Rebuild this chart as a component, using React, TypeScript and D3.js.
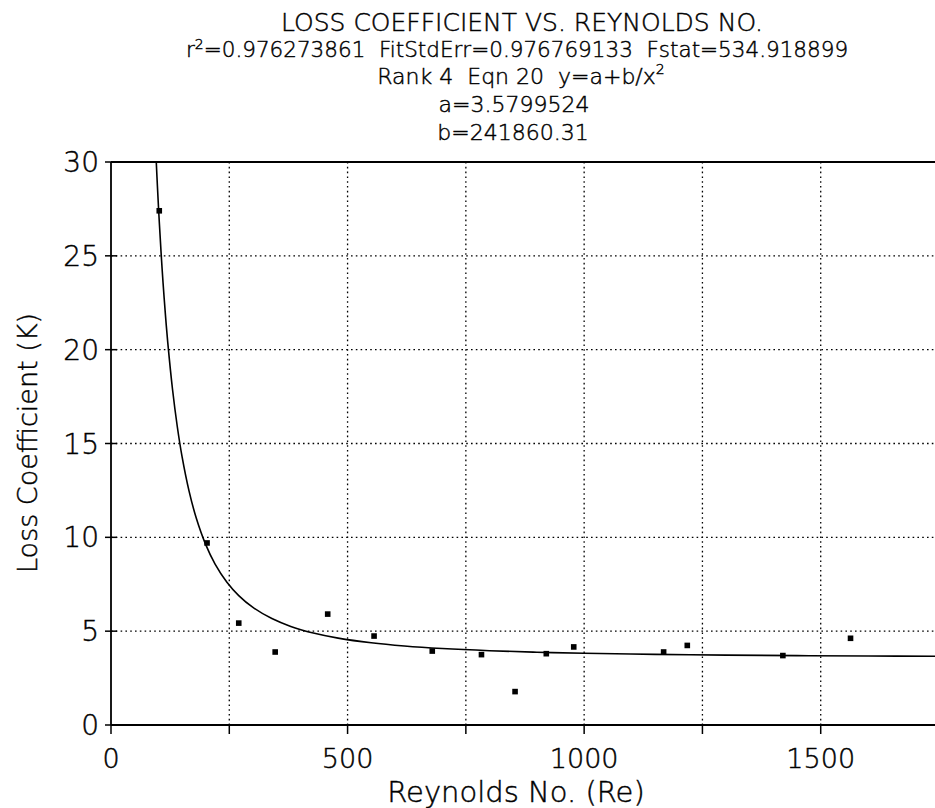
import React from "react";
import * as d3 from "d3";

// ---- data ----
const reynolds = [102, 203, 270, 347, 458, 556, 679, 783, 854, 920, 978, 1168, 1218, 1420, 1563];
const lossK = [27.4, 9.7, 5.43, 3.89, 5.91, 4.74, 3.94, 3.75, 1.78, 3.8, 4.16, 3.89, 4.24, 3.7, 4.62];

// fitted equation shown in the chart: y = a + b / x^2
const fitA = 3.5799524;
const fitB = 241860.31;
const curveRe = [95.7, 98, 102, 106, 110, 115, 120, 130, 140, 150, 165, 180, 200, 220, 245, 270, 300, 340, 380, 430, 480, 550, 620, 700, 800, 900, 1000, 1150, 1300, 1450, 1600, 1750];

const xTicks = [0, 250, 500, 750, 1000, 1250, 1500, 1750];
const xTickLabels = [0, 500, 1000, 1500];
const yTicks = [0, 5, 10, 15, 20, 25, 30];

const NB = "\u00A0";
const titleLines = [
  "LOSS COEFFICIENT VS. REYNOLDS NO.",
  `Rank 4${NB}${NB}Eqn 20${NB}${NB}y=a+b/x`,
  "a=3.5799524",
  "b=241860.31",
];
const statsParts = ["r", `=0.976273861${NB}${NB}FitStdErr=0.976769133${NB}${NB}Fstat=534.918899`];
const xTitle = "Reynolds No. (Re)";
const yTitle = "Loss Coefficient (K)";

const W = 935;
const H = 808;
const FONT = "'DejaVu Sans', 'Liberation Sans', sans-serif";

export default function App() {
  const x = d3.scaleLinear().domain([0, 1750]).range([111, 939]);
  const y = d3.scaleLinear().domain([0, 30]).range([725, 162]);

  const line = d3
    .line<number>()
    .x((d) => x(d))
    .y((d) => y(fitA + fitB / (d * d)))
    .curve(d3.curveCatmullRom);

  const cx = 520;
  const left = x(0);
  const right = x(1750);
  const top = y(30);
  const bottom = y(0);

  const txt = { fill: "#000", stroke: "#000", strokeWidth: 0.45 };

  return (
    <svg
      width={W}
      height={H}
      viewBox={`0 0 ${W} ${H}`}
      style={{ position: "absolute", left: 0, top: 0, background: "#fff" }}
      fontFamily={FONT}
      fontWeight={200}
    >
      <rect x={0} y={0} width={W} height={H} fill="#fff" />
      {/* titles */}
      <text x={cx + 2} y={31} textAnchor="middle" fontSize={25} {...txt}>
        {titleLines[0]}
      </text>
      <text x={cx - 3} y={57} textAnchor="middle" fontSize={21.5} {...txt}>
        {statsParts[0]}
        <tspan dy={-8} fontSize={14}>2</tspan>
        <tspan dy={8}>{statsParts[1]}</tspan>
      </text>
      <text x={cx + 1} y={84} textAnchor="middle" fontSize={22} {...txt}>
        {titleLines[1]}
        <tspan dy={-10} fontSize={14}>2</tspan>
      </text>
      <text x={cx - 6} y={112} textAnchor="middle" fontSize={22} {...txt}>
        {titleLines[2]}
      </text>
      <text x={cx - 7} y={140} textAnchor="middle" fontSize={22} {...txt}>
        {titleLines[3]}
      </text>

      {/* grid */}
      <g stroke="#000" strokeWidth={1.3} strokeDasharray="1.6,3.2" fill="none">
        {xTicks
          .filter((t) => t > 0)
          .map((t) => (
            <line key={"gx" + t} x1={x(t)} x2={x(t)} y1={top} y2={bottom} />
          ))}
        {yTicks
          .filter((t) => t > 0 && t < 30)
          .map((t) => (
            <line key={"gy" + t} x1={left} x2={right} y1={y(t)} y2={y(t)} />
          ))}
      </g>

      {/* axes frame */}
      <g stroke="#000" strokeWidth={1.8} fill="none">
        <line x1={left} x2={left} y1={top} y2={bottom} />
        <line x1={left} x2={right} y1={bottom} y2={bottom} />
        <line x1={left} x2={right} y1={top} y2={top} />
        {yTicks.map((t) => (
          <line key={"ty" + t} x1={left - 6} x2={left + 6} y1={y(t)} y2={y(t)} strokeWidth={1.5} />
        ))}
        {xTicks.map((t) => (
          <line key={"tx" + t} x1={x(t)} x2={x(t)} y1={bottom} y2={bottom + 9} strokeWidth={1.5} />
        ))}
      </g>

      {/* tick labels */}
      {yTicks.map((t) => (
        <text key={"ly" + t} x={left - 12} y={y(t) + 10} textAnchor="end" fontSize={28} {...txt}>
          {t}
        </text>
      ))}
      {xTickLabels.map((t) => (
        <text key={"lx" + t} x={x(t)} y={768} textAnchor="middle" fontSize={27} {...txt}>
          {t}
        </text>
      ))}

      {/* axis titles */}
      <text x={516} y={802} textAnchor="middle" fontSize={29} {...txt}>
        {xTitle}
      </text>
      <text
        transform={`translate(37,443) rotate(-90)`}
        textAnchor="middle"
        fontSize={27}
        {...txt}
      >
        {yTitle}
      </text>

      {/* fit curve */}
      <path d={line(curveRe) || ""} fill="none" stroke="#000" strokeWidth={1.6} />

      {/* data points */}
      {reynolds.map((r, i) => (
        <rect key={"p" + i} x={x(r) - 2.8} y={y(lossK[i]) - 2.8} width={5.6} height={5.6} fill="#000" />
      ))}
    </svg>
  );
}
